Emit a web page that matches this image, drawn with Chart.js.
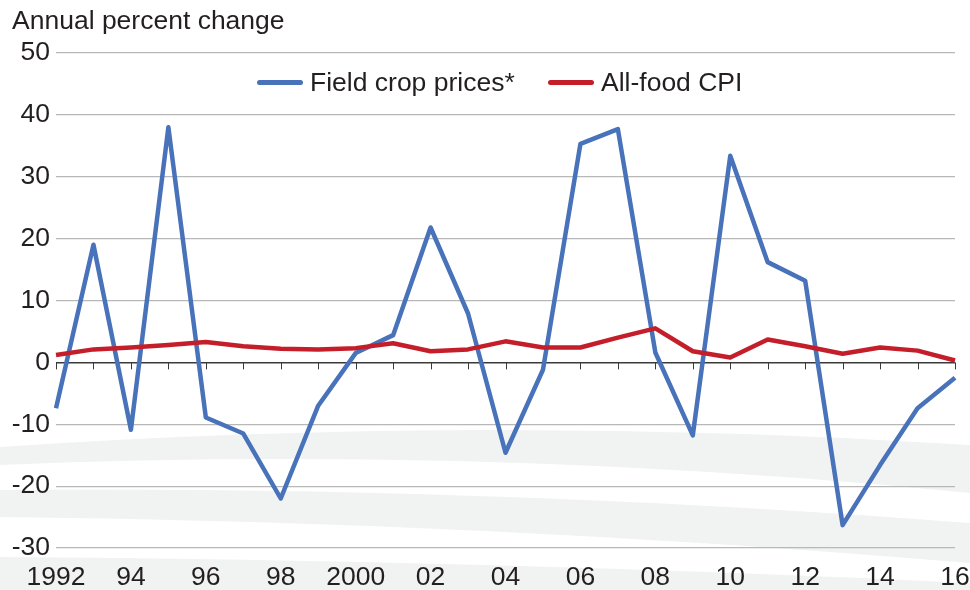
<!DOCTYPE html>
<html>
<head>
<meta charset="utf-8">
<script src="https://cdn.jsdelivr.net/npm/chart.js@4.4.1/dist/chart.umd.min.js"></script>
<style>
  html, body { margin: 0; padding: 0; background: #fff; }
  #wrap { position: relative; width: 970px; height: 590px; font-family: "Liberation Sans", Arial, sans-serif; color: #231f20; }
  #grafico { position: absolute; left: 0; top: 0; }
  .titulo { position: absolute; left: 12px; top: 5px; font-size: 26.5px; line-height: 30px; }
  .legenda { position: absolute; top: 67px; font-size: 26.5px; line-height: 30px; display: flex; align-items: center; }
  .legenda span.linha { display: inline-block; width: 46px; height: 5px; border-radius: 3px; margin-right: 7px; }
</style>
</head>
<body>
<div id="wrap">
  <canvas id="grafico" width="970" height="590"></canvas>
  <div class="titulo">Annual percent change</div>
  <div class="legenda" style="left:257px"><span class="linha" style="background:#4872b9"></span>Field crop prices*</div>
  <div class="legenda" style="left:548px"><span class="linha" style="background:#c41e2a"></span>All-food CPI</div>
</div>
<script>
// Dados
const anos = ["1992","1993","1994","1995","1996","1997","1998","1999","2000","2001","2002","2003",
  "2004","2005","2006","2007","2008","2009","2010","2011","2012","2013","2014","2015","2016"];
const rotulosX = ["1992","","94","","96","","98","","2000","","02","","04","","06","","08","","10","","12","","14","","16"];
const precosCultivos = [-7.4, 19, -10.9, 38, -8.9, -11.5, -22, -7, 1.5, 4.4, 21.8, 7.9,
  -14.6, -1.2, 35.3, 37.7, 1.6, -11.8, 33.4, 16.2, 13.2, -26.3, -16.6, -7.4, -2.5];
const cpiAlimentos = [1.2, 2.1, 2.4, 2.8, 3.3, 2.6, 2.2, 2.1, 2.3, 3.1, 1.8, 2.1,
  3.4, 2.4, 2.4, 4.0, 5.5, 1.8, 0.8, 3.7, 2.6, 1.4, 2.4, 1.9, 0.3];

const FONTE = "'Liberation Sans', Arial, sans-serif";
const COR_TEXTO = '#231f20';

// Faixas cinzas decorativas do fundo
const fundoOndas = {
  id: 'fundoOndas',
  beforeDraw(chart) {
    const c = chart.ctx;
    c.save();
    c.fillStyle = '#f1f2f2';
    c.beginPath();
    c.moveTo(0, 447); c.quadraticCurveTo(485, 414, 970, 445);
    c.lineTo(970, 493); c.quadraticCurveTo(485, 445, 0, 465);
    c.closePath(); c.fill();
    c.beginPath();
    c.moveTo(0, 490); c.quadraticCurveTo(485, 486, 970, 523);
    c.lineTo(970, 563); c.quadraticCurveTo(485, 522, 0, 517);
    c.closePath(); c.fill();
    c.beginPath();
    c.moveTo(0, 557); c.quadraticCurveTo(485, 560, 970, 583);
    c.lineTo(970, 590); c.lineTo(0, 590);
    c.closePath(); c.fill();
    c.restore();
  }
};

// Marcas de ano sobre a linha do zero
const marcasZero = {
  id: 'marcasZero',
  beforeDatasetsDraw(chart) {
    const { ctx: c, scales: { x, y } } = chart;
    const y0 = y.getPixelForValue(0);
    c.save();
    c.strokeStyle = '#3a3a3a';
    c.lineWidth = 1;
    anos.forEach((a, i) => {
      const px = Math.round(x.getPixelForValue(i)) + 0.5;
      c.beginPath(); c.moveTo(px, y0); c.lineTo(px, y0 + 7); c.stroke();
    });
    c.restore();
  }
};

new Chart(document.getElementById('grafico'), {
  type: 'line',
  data: {
    labels: anos,
    datasets: [
      { label: 'All-food CPI', data: cpiAlimentos, borderColor: '#c41e2a', borderWidth: 4.5,
        pointRadius: 0, tension: 0, borderJoinStyle: 'round' },
      { label: 'Field crop prices*', data: precosCultivos, borderColor: '#4872b9', borderWidth: 4.5,
        pointRadius: 0, tension: 0, borderJoinStyle: 'round' }
    ]
  },
  options: {
    responsive: false,
    animation: false,
    layout: { padding: { top: 53, right: 15, left: 0, bottom: 0 } },
    plugins: { legend: { display: false }, tooltip: { enabled: false } },
    scales: {
      x: {
        offset: false,
        grid: { display: false },
        border: { display: false },
        ticks: {
          autoSkip: false, maxRotation: 0, padding: 6, color: COR_TEXTO,
          font: { family: FONTE, size: 26.5 },
          callback: (v, i) => rotulosX[i]
        },
        afterFit: s => { s.height = 42; s.paddingLeft = 0; s.paddingRight = 0; }
      },
      y: {
        min: -30, max: 50,
        ticks: { stepSize: 10, padding: 6, color: COR_TEXTO, font: { family: FONTE, size: 26.5 } },
        grid: {
          drawTicks: false,
          color: ctx => ctx.tick && ctx.tick.value === 0 ? '#3a3a3a' : '#b8b8b8',
          lineWidth: ctx => ctx.tick && ctx.tick.value === 0 ? 1.5 : 1.2
        },
        border: { display: false },
        afterFit: s => { s.width = 56; }
      }
    }
  },
  plugins: [fundoOndas, marcasZero]
});
</script>
</body>
</html>
